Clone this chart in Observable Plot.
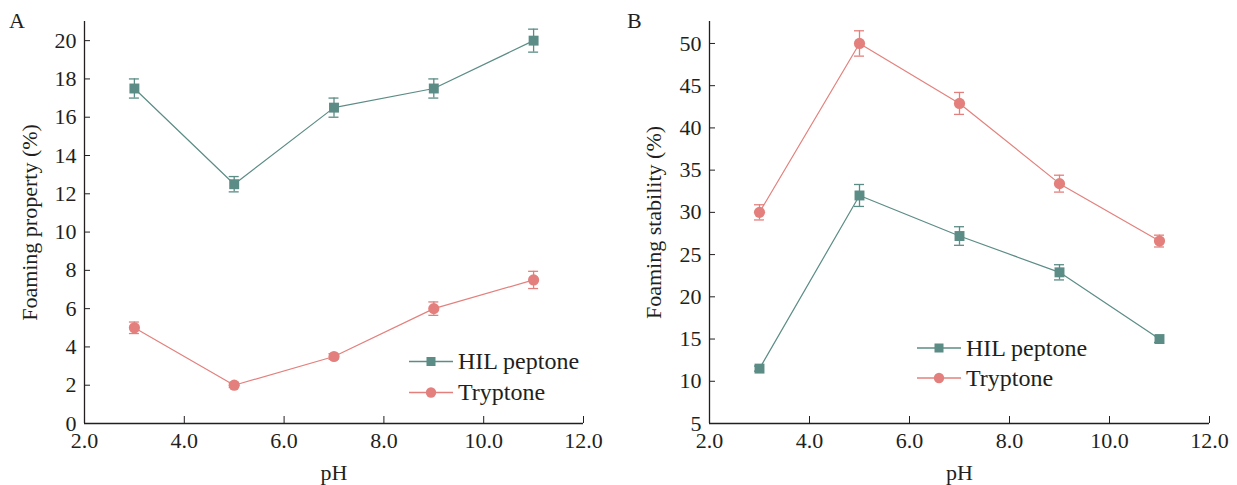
<!DOCTYPE html>
<html><head><meta charset="utf-8">
<script src="https://cdn.jsdelivr.net/npm/d3@7"></script>
<script src="https://cdn.jsdelivr.net/npm/@observablehq/plot@0.6"></script>
<style>
body{margin:0;background:#fff;font-family:"Liberation Serif","Times New Roman",serif;}
#wrap{position:relative;width:1237px;height:485px;display:flex;}
.panel{position:relative;height:485px;}
.panel svg{display:block;font-family:"Liberation Serif","Times New Roman",serif !important;}
.panel svg text{font-family:"Liberation Serif","Times New Roman",serif !important;}
.letter{position:absolute;font-size:22px;line-height:26px;color:#231f20;}
.legend{position:absolute;font-size:24px;color:#231f20;font-family:"Liberation Serif","Times New Roman",serif;}
.legend .row{display:flex;align-items:center;}
.legend .row span{margin-left:5px;}
</style></head><body>
<div id="wrap"></div>
<script>
const pH = [3, 5, 7, 9, 11];
const seriesNames = ["HIL peptone", "Tryptone"];
const seriesColors = ["#5b8c85", "#e3807d"];
const foamHIL = [17.5, 12.5, 16.5, 17.5, 20.0];
const foamHILErr = [0.5, 0.4, 0.5, 0.5, 0.6];
const foamTry = [5.0, 2.0, 3.5, 6.0, 7.5];
const foamTryErr = [0.3, 0.12, 0.15, 0.35, 0.45];
const stabHIL = [11.5, 32.0, 27.2, 22.9, 15.0];
const stabHILErr = [0.3, 1.3, 1.1, 0.9, 0.4];
const stabTry = [30.0, 50.0, 42.9, 33.4, 26.6];
const stabTryErr = [0.9, 1.5, 1.3, 1.0, 0.7];
const xTicks = [2, 4, 6, 8, 10, 12];
const yTicksA = [0, 2, 4, 6, 8, 10, 12, 14, 16, 18, 20];
const yTicksB = [5, 10, 15, 20, 25, 30, 35, 40, 45, 50];

function rows(hil, hilErr, tr, trErr) {
  const out = [];
  pH.forEach((x, i) => out.push({series: seriesNames[0], x, y: hil[i], e: hilErr[i]}));
  pH.forEach((x, i) => out.push({series: seriesNames[1], x, y: tr[i], e: trErr[i]}));
  return out;
}

const ink = "#231f20";

function panel({data, width, yDomain, yTicks, ylabel, marginLeft, marginRight, labelOffset, letter, legendLeft, legendTop, rowH}) {
  const div = document.createElement("div");
  div.className = "panel";
  div.style.width = width + "px";
  const chart = Plot.plot({
    width, height: 485,
    marginTop: 21, marginBottom: 62, marginLeft, marginRight,
    style: {fontFamily: "Liberation Serif, Times New Roman, serif", fontSize: "22px", color: ink, background: "#fff"},
    x: {domain: [2, 12]},
    y: {domain: yDomain},
    color: {domain: seriesNames, range: seriesColors},
    marks: [
      Plot.axisX({ticks: xTicks, tickFormat: d3.format(".1f"), tickSize: -7, tickPadding: 16, label: "pH", labelAnchor: "center", labelArrow: "none", labelOffset: 56, stroke: ink, fill: ink}),
      Plot.axisY({ticks: yTicks, tickSize: -6, tickPadding: 14, label: ylabel, labelAnchor: "center", labelArrow: "none", labelOffset, stroke: ink, fill: ink}),
      Plot.ruleX([2], {stroke: ink, strokeWidth: 1.3}),
      Plot.ruleY([yDomain[0]], {stroke: ink, strokeWidth: 1.3}),
      Plot.line(data, {x: "x", y: "y", z: "series", stroke: "series", strokeWidth: 1.2}),
      Plot.ruleX(data, {x: "x", y1: d => d.y - d.e, y2: d => d.y + d.e, stroke: "series", strokeWidth: 1.3}),
      Plot.ruleY(data, {y: d => d.y + d.e, x1: "x", x2: "x", insetLeft: -5, insetRight: -5, stroke: "series", strokeWidth: 1.3}),
      Plot.ruleY(data, {y: d => d.y - d.e, x1: "x", x2: "x", insetLeft: -5, insetRight: -5, stroke: "series", strokeWidth: 1.3}),
      Plot.dot(data.filter(d => d.series === seriesNames[0]), {x: "x", y: "y", symbol: "square", r: 5.6, fill: "series", stroke: "none"}),
      Plot.dot(data.filter(d => d.series === seriesNames[1]), {x: "x", y: "y", symbol: "circle", r: 5.6, fill: "series", stroke: "none"})
    ]
  });
  div.appendChild(chart);
  const l = document.createElement("div");
  l.className = "letter";
  l.style.left = "9px"; l.style.top = "8px";
  l.textContent = letter;
  div.appendChild(l);
  const leg = document.createElement("div");
  leg.className = "legend";
  leg.style.left = legendLeft + "px"; leg.style.top = legendTop + "px";
  seriesNames.forEach((name, i) => {
    const row = document.createElement("div");
    row.className = "row";
    row.style.height = rowH + "px";
    const c = seriesColors[i];
    const marker = i === 0
      ? `<rect x="17.5" y="${rowH/2-4.5}" width="9" height="9" fill="${c}"/>`
      : `<circle cx="22" cy="${rowH/2}" r="5.2" fill="${c}"/>`;
    row.innerHTML = `<svg width="44" height="${rowH}"><line x1="0" x2="44" y1="${rowH/2}" y2="${rowH/2}" stroke="${c}" stroke-width="1.3"/>${marker}</svg><span>${name}</span>`;
    leg.appendChild(row);
  });
  div.appendChild(leg);
  return div;
}

const wrap = document.getElementById("wrap");
wrap.appendChild(panel({
  data: rows(foamHIL, foamHILErr, foamTry, foamTryErr), width: 618,
  yDomain: [0, 21], yTicks: yTicksA, ylabel: "Foaming property (%)",
  marginLeft: 84, marginRight: 35, labelOffset: 63, letter: "A",
  legendLeft: 409, legendTop: 346, rowH: 31
}));
wrap.appendChild(panel({
  data: rows(stabHIL, stabHILErr, stabTry, stabTryErr), width: 619,
  yDomain: [5, 52.6], yTicks: yTicksB, ylabel: "Foaming stability (%)",
  marginLeft: 91, marginRight: 28, labelOffset: 64, letter: "B",
  legendLeft: 299, legendTop: 333, rowH: 30
}));
</script>
</body></html>
